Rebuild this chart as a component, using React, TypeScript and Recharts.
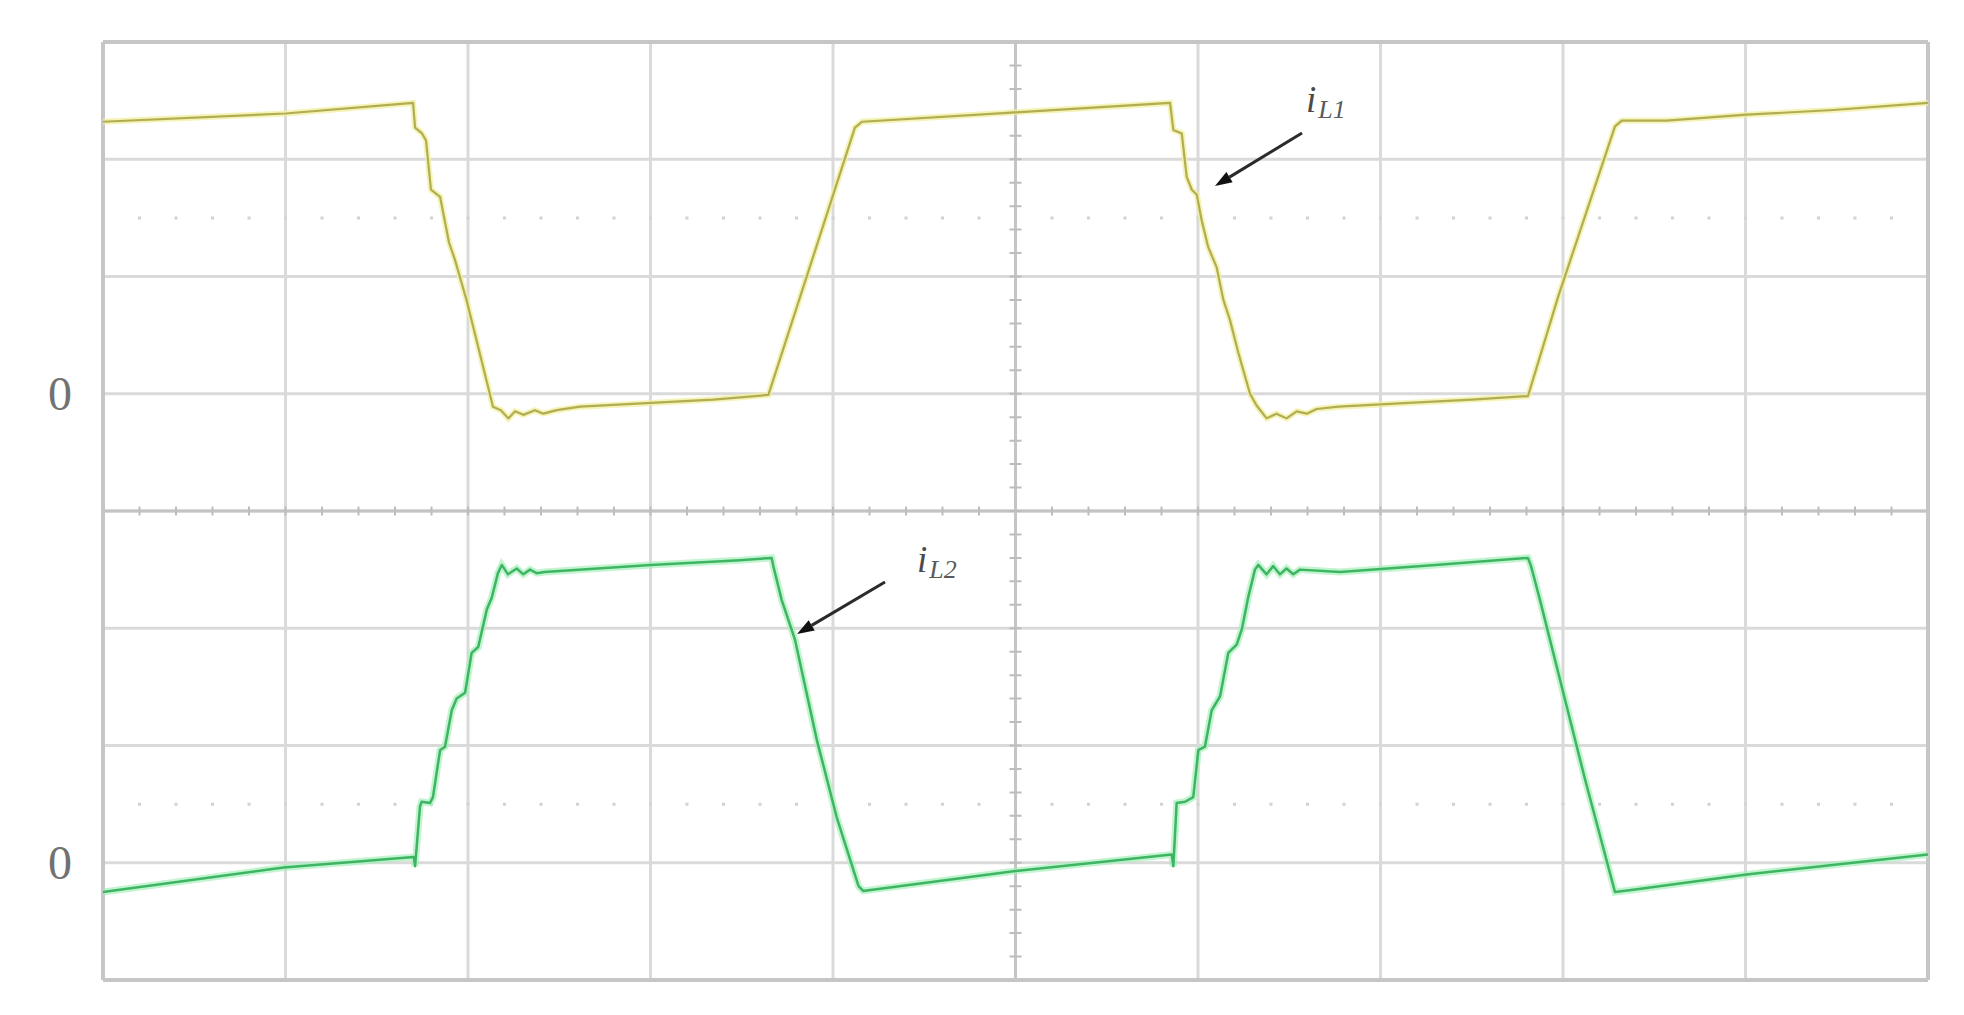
import {
  LineChart,
  Line,
  XAxis,
  YAxis,
  CartesianGrid,
  ReferenceLine,
  ReferenceDot,
} from "recharts";

// ─── Data (time and current in scope divisions, each trace relative to its own 0) ──

const iL1Time = [
  0, 1.0, 1.699, 1.71, 1.748, 1.77, 1.797, 1.847, 1.896, 1.929, 1.992, 2.137, 2.18,
  2.221, 2.258, 2.303, 2.367, 2.413, 2.486, 2.614, 2.979, 3.344, 3.646, 4.12, 4.16,
  5.0, 5.847, 5.865, 5.911, 5.938, 5.966, 5.993, 6.02, 6.056, 6.102, 6.139, 6.175,
  6.221, 6.285, 6.321, 6.376, 6.43, 6.485, 6.541, 6.596, 6.65, 6.77, 7.13, 7.5,
  7.808, 7.974, 8.285, 8.322, 8.568, 9.007, 9.481, 10.0,
];
const iL1Value = [
  2.32, 2.39, 2.48, 2.27, 2.22, 2.16, 1.74, 1.68, 1.29, 1.14, 0.8, -0.11, -0.14,
  -0.21, -0.15, -0.18, -0.14, -0.17, -0.14, -0.11, -0.08, -0.05, -0.01, 2.27, 2.32,
  2.4, 2.48, 2.25, 2.22, 1.85, 1.74, 1.7, 1.48, 1.25, 1.08, 0.8, 0.63,
  0.35, 0.0, -0.1, -0.21, -0.17, -0.21, -0.15, -0.17, -0.13, -0.11, -0.08, -0.05,
  -0.02, 0.83, 2.28, 2.33, 2.33, 2.38, 2.42, 2.48,
];

const iL2Time = [
  0, 0.989, 1.703, 1.71, 1.737, 1.746, 1.792, 1.808, 1.847, 1.874, 1.911, 1.938,
  1.984, 2.02, 2.056, 2.103, 2.13, 2.164, 2.185, 2.219, 2.267, 2.303, 2.34, 2.376,
  2.42, 3.0, 3.49, 3.664, 3.673, 3.719, 3.792, 3.911, 4.02, 4.14, 4.165, 5.0,
  5.856, 5.865, 5.883, 5.929, 5.974, 6.002, 6.038, 6.075, 6.121, 6.166, 6.212, 6.24,
  6.276, 6.312, 6.33, 6.376, 6.412, 6.449, 6.485, 6.522, 6.559, 6.778, 7.3, 7.808,
  7.825, 7.874, 8.121, 8.285, 8.385, 9.006, 10.0,
];
const iL2Value = [
  -0.25, -0.04, 0.05, -0.03, 0.48, 0.52, 0.51, 0.56, 0.96, 0.99, 1.3, 1.4,
  1.45, 1.79, 1.84, 2.16, 2.26, 2.47, 2.54, 2.46, 2.51, 2.46, 2.5, 2.47,
  2.48, 2.54, 2.58, 2.6, 2.53, 2.24, 1.9, 1.05, 0.39, -0.2, -0.24, -0.07,
  0.07, -0.03, 0.51, 0.52, 0.56, 0.96, 0.99, 1.3, 1.42, 1.79, 1.86, 1.99,
  2.27, 2.5, 2.54, 2.46, 2.53, 2.46, 2.51, 2.46, 2.5, 2.48, 2.54, 2.6,
  2.53, 2.24, 0.71, -0.25, -0.23, -0.1, 0.07,
];

const timeTicks = [0, 1, 2, 3, 4, 5, 6, 7, 8, 9, 10];
const divTicks = [0, 1, 2, 3, 4, 5, 6, 7, 8];

const iL1Data = iL1Time.map((t, i) => ({ t, v: iL1Value[i] }));
const iL2Data = iL2Time.map((t, i) => ({ t, v: iL2Value[i] }));

// ─── Styling ──────────────────────────────────────────────────────────────────

const GRID = "#dadada";
const BORDER = "#c6c6c6";
const LABEL_FONT = "'Liberation Serif', 'DejaVu Serif', serif";

// ─── Custom shapes ────────────────────────────────────────────────────────────

function ZeroMark(props: any) {
  const { cx, cy } = props;
  return (
    <text
      x={cx - 31}
      y={cy}
      textAnchor="end"
      dominantBaseline="central"
      fontFamily={LABEL_FONT}
      fontSize={48}
      fill="#727272"
    >
      0
    </text>
  );
}

function makeTraceLabel(sub: string) {
  return function TraceLabel(props: any) {
    const { cx, cy } = props;
    return (
      <text x={cx} y={cy} fontFamily={LABEL_FONT} fontStyle="italic" fill="#4a4a4a">
        <tspan fontSize={37}>i</tspan>
        <tspan fontSize={26} dx={2} dy={6} fill="#5a5a5a">{sub}</tspan>
      </text>
    );
  };
}

function Arrow(props: any) {
  const { x1, y1, x2, y2 } = props;
  const ang = Math.atan2(y2 - y1, x2 - x1);
  const len = 17;
  const half = 6;
  const bx = x2 - len * Math.cos(ang);
  const by = y2 - len * Math.sin(ang);
  const px = -Math.sin(ang) * half;
  const py = Math.cos(ang) * half;
  return (
    <g>
      <line x1={x1} y1={y1} x2={bx} y2={by} stroke="#2b2b2b" strokeWidth={3} />
      <polygon
        points={`${x2},${y2} ${bx + px},${by + py} ${bx - px},${by - py}`}
        fill="#111"
      />
    </g>
  );
}

// ─── Component ────────────────────────────────────────────────────────────────

export default function App() {
  return (
    <div style={{ position: "absolute", left: 0, top: 0, background: "#fff" }}>
      <LineChart
        width={1964}
        height={1015}
        margin={{ top: 42, right: 36, bottom: 35, left: 103 }}
      >
        <XAxis
          dataKey="t"
          type="number"
          domain={[0, 10]}
          ticks={timeTicks}
          allowDataOverflow
          hide
        />
        <YAxis yAxisId="grid" type="number" domain={[0, 8]} ticks={divTicks} allowDataOverflow hide />
        <YAxis yAxisId="a" type="number" domain={[-5, 3]} allowDataOverflow hide />
        <YAxis yAxisId="b" type="number" domain={[-1, 7]} allowDataOverflow hide />

        <CartesianGrid yAxisId="grid" stroke={GRID} strokeWidth={3} />

        {/* dotted sub-division rows */}
        <ReferenceLine yAxisId="grid" y={6.5} stroke="#d2d2d2" strokeWidth={3} strokeDasharray="3 33.5" strokeDashoffset={1.5} />
        <ReferenceLine yAxisId="grid" y={1.5} stroke="#d2d2d2" strokeWidth={3} strokeDasharray="3 33.5" strokeDashoffset={1.5} />

        {/* centre axes with minor ticks */}
        <ReferenceLine yAxisId="grid" y={4} stroke="#c4c4c4" strokeWidth={3} />
        <ReferenceLine yAxisId="grid" y={4} stroke="#bdbdbd" strokeWidth={9} strokeDasharray="2 34.5" strokeDashoffset={1} />
        <ReferenceLine yAxisId="grid" x={5} stroke="#c4c4c4" strokeWidth={3} />
        <ReferenceLine yAxisId="grid" x={5} stroke="#bdbdbd" strokeWidth={12} strokeDasharray="2 21.45" strokeDashoffset={1} />

        {/* frame */}
        <ReferenceLine yAxisId="grid" y={8} stroke={BORDER} strokeWidth={4} />
        <ReferenceLine yAxisId="grid" y={0} stroke={BORDER} strokeWidth={4} />
        <ReferenceLine yAxisId="grid" x={0} stroke={BORDER} strokeWidth={4} />
        <ReferenceLine yAxisId="grid" x={10} stroke={BORDER} strokeWidth={4} />

        {/* traces (soft halo + core) */}
        <Line data={iL1Data} yAxisId="a" dataKey="v" type="linear" dot={false} stroke="#f1ef9e" strokeWidth={6} strokeOpacity={0.75} isAnimationActive={false} />
        <Line data={iL1Data} yAxisId="a" dataKey="v" type="linear" dot={false} stroke="#b0ad52" strokeWidth={2.2} strokeLinejoin="round" isAnimationActive={false} />
        <Line data={iL2Data} yAxisId="b" dataKey="v" type="linear" dot={false} stroke="#a6f0bb" strokeWidth={7} strokeOpacity={0.7} isAnimationActive={false} />
        <Line data={iL2Data} yAxisId="b" dataKey="v" type="linear" dot={false} stroke="#3db562" strokeWidth={2.5} strokeLinejoin="round" isAnimationActive={false} />

        {/* zero markers */}
        <ReferenceDot yAxisId="a" x={0} y={0} shape={ZeroMark} />
        <ReferenceDot yAxisId="b" x={0} y={0} shape={ZeroMark} />

        {/* annotations */}
        <ReferenceLine yAxisId="grid" segment={[{ x: 6.57, y: 7.224 }, { x: 6.093, y: 6.772 }]} shape={Arrow} />
        <ReferenceLine yAxisId="grid" segment={[{ x: 4.285, y: 3.394 }, { x: 3.803, y: 2.951 }]} shape={Arrow} />
        <ReferenceDot yAxisId="grid" x={6.592} y={7.403} shape={makeTraceLabel("L1")} />
        <ReferenceDot yAxisId="grid" x={4.46} y={3.48} shape={makeTraceLabel("L2")} />
      </LineChart>
    </div>
  );
}
